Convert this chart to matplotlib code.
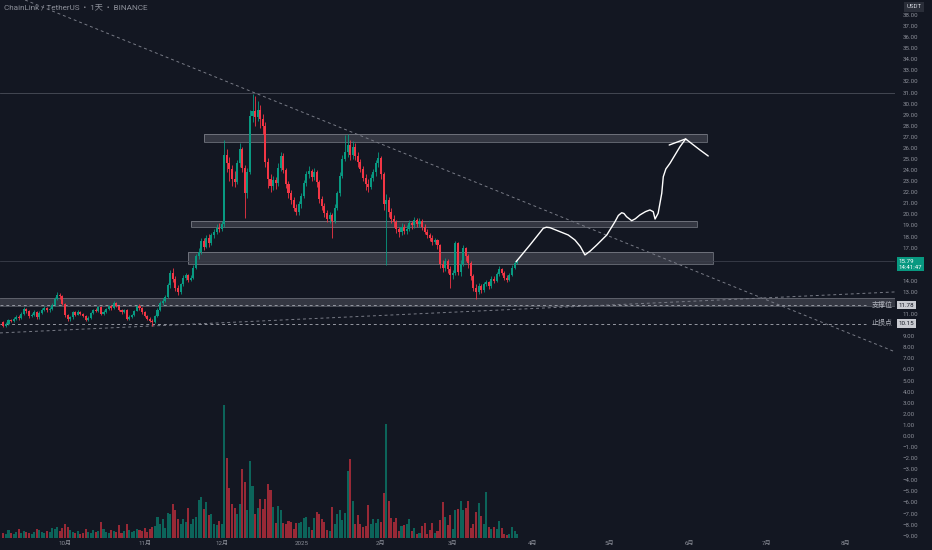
import numpy as np
import pandas as pd
import matplotlib
matplotlib.use("Agg")
import matplotlib.pyplot as plt
from matplotlib.patches import Rectangle
from matplotlib.ticker import FuncFormatter
from matplotlib.transforms import blended_transform_factory

BG = "#131722"
TXT = "#8c8f99"
UP, DOWN = "#089981", "#f23645"

# daily candles, ChainLink / TetherUS
origin = pd.Timestamp("2024-10-01")
dates = pd.date_range("2024-09-07", "2025-03-26", freq="D")
first_open = 10.25
close = [
    9.95, 10.15, 10.45, 10.40, 10.60, 10.75, 10.65, 11.05, 11.45, 11.30,
    10.80, 10.95, 11.20, 10.70, 11.10, 11.40, 11.55, 11.35, 11.45, 11.80,
    12.40, 12.75, 12.60, 11.90,
    10.90, 10.55, 10.70, 11.15, 10.95, 11.20, 11.00, 10.80, 10.50, 10.65,
    11.10, 11.40, 11.25, 11.60, 11.00, 11.20, 11.45, 11.70, 11.55, 12.00,
    11.75, 11.40, 11.20, 11.35, 10.60, 10.75, 10.95, 11.30, 11.70, 11.55,
    11.15, 10.85, 10.60, 10.40, 10.30, 10.80, 11.40, 12.00, 12.20, 12.55,
    13.60, 14.70, 14.20, 13.40, 12.95, 13.70, 14.30, 14.50, 14.10, 14.30,
    15.20, 16.20, 16.60, 17.60, 17.10, 17.90, 17.40, 18.10, 18.40, 18.80,
    18.70, 19.10, 25.40, 24.60, 24.10, 23.20, 22.90, 24.60, 25.90, 24.20,
    21.90, 23.80, 28.90, 29.30, 28.80, 29.40, 28.60, 28.00, 24.70, 23.20,
    22.60, 23.10, 22.80, 24.20, 25.30, 24.00, 22.70, 21.90, 21.30, 20.60,
    20.20, 20.90, 21.70, 22.80, 23.60, 23.90, 23.40, 23.80, 22.90, 21.40,
    20.80, 20.10, 19.60, 19.90, 19.40, 20.60, 21.90, 23.50, 25.00, 25.60,
    26.30, 25.40, 26.10, 25.30, 24.70, 24.10, 23.30, 22.70, 22.50, 23.30,
    23.80, 24.60, 25.10, 23.60, 20.90, 21.30, 20.20, 19.60, 19.30, 18.70,
    18.40, 18.90, 18.50, 18.70, 19.20, 19.00, 19.50, 19.10, 19.40, 18.90,
    18.40, 18.10, 17.90, 17.50, 17.70, 17.20, 15.50, 15.20, 15.80, 15.10, 14.50,
    14.70, 17.40, 14.80, 15.50, 17.00, 16.20, 15.60, 14.40, 13.40, 13.00,
    13.50, 13.20, 13.70, 13.90, 13.50, 14.20, 14.00, 14.60, 15.10, 14.70,
    14.30, 14.10, 14.50, 15.20, 15.60, 15.79,
]
high = [
    10.35, 10.25, 10.55, 10.60, 10.75, 10.90, 10.95, 11.20, 11.60, 11.55,
    11.35, 11.10, 11.35, 11.30, 11.25, 11.55, 11.75, 11.65, 11.60, 12.00,
    12.55, 12.95, 12.90, 12.70,
    12.00, 11.05, 10.85, 11.30, 11.25, 11.35, 11.30, 11.10, 10.90, 10.80,
    11.20, 11.50, 11.55, 11.75, 11.70, 11.35, 11.55, 11.85, 11.80, 12.15,
    12.10, 11.85, 11.50, 11.50, 11.45, 10.90, 11.05, 11.40, 11.85, 11.90,
    11.65, 11.25, 10.95, 10.75, 10.55, 10.95, 11.55, 12.15, 12.45, 12.75,
    13.80, 15.00, 15.20, 14.40, 13.60, 13.85, 14.50, 14.75, 14.65, 14.55,
    15.40, 16.45, 16.95, 17.85, 17.90, 18.10, 18.20, 18.35, 18.70, 19.10,
    19.20, 19.40, 26.70, 25.90, 25.20, 24.50, 23.90, 24.90, 26.40, 26.10,
    24.50, 24.20, 29.40, 30.90, 30.70, 30.20, 29.90, 29.10, 28.30, 25.10,
    23.60, 23.50, 23.40, 24.60, 25.60, 25.50, 24.20, 23.00, 22.20, 21.60,
    20.90, 21.20, 21.90, 23.10, 23.90, 24.40, 24.10, 24.20, 24.00, 23.10,
    21.70, 21.00, 20.40, 20.20, 20.10, 20.90, 22.10, 23.80, 25.40, 27.20,
    27.30, 26.70, 26.60, 26.40, 25.60, 25.00, 24.40, 23.60, 23.20, 23.60,
    24.10, 24.90, 25.60, 25.30, 23.80, 21.80, 21.60, 20.60, 19.90, 19.50,
    18.90, 19.20, 19.10, 19.00, 19.50, 19.40, 19.80, 19.70, 19.70, 19.60,
    19.10, 18.70, 18.30, 18.10, 17.90, 17.80, 17.30, 15.90, 16.10, 16.00, 15.30,
    15.00, 17.60, 17.50, 15.90, 17.20, 17.10, 16.40, 15.80, 14.60, 13.70,
    13.80, 13.70, 13.90, 14.10, 14.00, 14.40, 14.40, 14.80, 15.30, 15.20,
    14.90, 14.50, 14.70, 15.40, 15.80, 15.95,
]
low = [
    9.80, 9.85, 10.05, 10.25, 10.30, 10.50, 10.50, 10.60, 10.95, 11.10,
    10.65, 10.70, 10.85, 10.55, 10.60, 11.00, 11.30, 11.20, 11.20, 11.40,
    11.75, 12.30, 12.40, 11.80,
    10.70, 10.35, 10.40, 10.60, 10.85, 10.90, 10.90, 10.70, 10.35, 10.40,
    10.55, 11.00, 11.15, 11.20, 10.90, 10.90, 11.10, 11.35, 11.40, 11.50,
    11.60, 11.30, 11.05, 11.10, 10.45, 10.50, 10.65, 10.85, 11.25, 11.40,
    11.00, 10.70, 10.45, 10.25, 9.95, 10.20, 10.70, 11.30, 11.85, 12.05,
    12.45, 13.40, 13.90, 13.10, 12.70, 12.80, 13.55, 14.05, 13.90, 13.95,
    14.20, 15.05, 16.00, 16.40, 16.80, 16.95, 17.10, 17.20, 17.90, 18.20,
    18.40, 18.50, 18.90, 23.80, 23.00, 22.60, 22.50, 22.70, 24.30, 23.80,
    19.70, 21.50, 23.60, 28.30, 28.00, 28.40, 27.80, 27.30, 24.30, 22.40,
    22.00, 22.20, 22.30, 22.60, 23.90, 23.70, 22.40, 21.50, 20.90, 20.30,
    19.90, 19.95, 20.60, 21.50, 22.60, 23.30, 23.00, 23.10, 22.50, 21.00,
    20.40, 19.80, 19.30, 19.20, 17.90, 19.20, 20.40, 21.70, 23.30, 24.80,
    25.20, 24.90, 25.00, 24.90, 24.30, 23.80, 23.00, 22.20, 22.00, 22.30,
    23.00, 23.50, 24.30, 23.20, 20.40, 15.40, 19.80, 19.20, 18.90, 18.30,
    18.00, 18.10, 18.20, 18.20, 18.50, 18.70, 18.80, 18.90, 18.90, 18.60,
    18.20, 17.90, 17.60, 17.20, 17.30, 16.90, 15.20, 14.80, 14.90, 14.70, 13.40,
    14.20, 14.50, 14.50, 14.40, 15.30, 15.80, 15.20, 14.10, 13.10, 12.40,
    12.80, 12.90, 13.00, 13.50, 13.30, 13.40, 13.80, 13.90, 14.40, 14.50,
    14.10, 13.90, 14.00, 14.40, 15.10, 15.50,
]
volume = [
    5, 4, 8, 5, 4, 6, 9, 5, 7, 6,
    5, 4, 6, 9, 8, 6, 5, 7, 6, 10,
    9, 11, 7, 10,
    14, 11, 8, 6, 5, 7, 4, 5, 9, 6,
    5, 8, 6, 7, 16, 9, 6, 5, 8, 7,
    6, 13, 5, 7, 14, 8, 6, 7, 9, 8,
    7, 10, 6, 9, 11, 12, 21, 14, 19, 10,
    25, 24, 34, 28, 19, 14, 19, 16, 30, 14,
    19, 21, 38, 41, 29, 36, 23, 24, 14, 13,
    17, 14, 133, 80, 50, 34, 30, 24, 34, 69,
    56, 28, 77, 52, 24, 30, 39, 29, 39, 54,
    48, 31, 15, 32, 28, 15, 14, 17, 16, 9,
    15, 15, 16, 20, 21, 11, 8, 20, 26, 24,
    19, 16, 8, 7, 31, 14, 24, 28, 18, 25,
    67, 79, 37, 14, 23, 14, 11, 12, 33, 14,
    19, 15, 19, 16, 45, 114, 37, 20, 16, 20,
    7, 12, 13, 14, 19, 7, 10, 4, 5, 12,
    15, 4, 8, 15, 5, 7, 18, 36, 21, 13, 23,
    9, 28, 29, 37, 28, 30, 37, 10, 14, 26,
    35, 22, 14, 46, 11, 9, 11, 9, 17, 10,
    4, 3, 4, 11, 7, 4,
]

month_starts = ["2024-10-01", "2024-11-01", "2024-12-01", "2025-01-01", "2025-02-01",
                "2025-03-01", "2025-04-01", "2025-05-01", "2025-06-01", "2025-07-01",
                "2025-08-01"]
month_labels = ["10月", "11月", "12月", "2025", "2月", "3月", "4月", "5月", "6月", "7月", "8月"]

# price scale labels hidden behind the value boxes on the right
hidden_ticks = [10, 12, 15, 16]

# drawn zones: (start day, end day, low, high), days counted from 2024-10-01
zones = [(54.1, 249.9, 26.53, 27.26),
         (49.0, 246.0, 18.86, 19.40),
         (47.9, 252.2, 15.50, 16.60)]
support_zone = (11.73, 12.48)
ath_line = 30.98
levels = [11.78, 10.15]
level_names = ["支撑位", "止损点"]
trend_down = [(-8.6, 38.7), (322.3, 7.67)]
trend_up = [(-25.3, 9.30), (323.1, 13.0)]

# hand drawn projection path
path_day = [175.6, 181.0, 186.2, 187.4, 188.8, 191.5, 195.9, 198.5, 200.6, 202.4,
            204.5, 207.0, 210.9, 214.1, 215.4, 216.7, 217.6, 218.6, 220.6, 222.0,
            223.8, 226.0, 227.7, 229.0, 229.7, 230.9, 232.3, 232.9, 233.9, 235.5,
            239.4, 241.6, 247.2, 250.4]
path_price = [15.73, 17.24, 18.75, 18.84, 18.80, 18.55, 18.14, 17.69, 17.10, 16.34,
              16.70, 17.24, 18.14, 19.34, 19.90, 20.15, 20.08, 19.79, 19.43, 19.60,
              19.95, 20.25, 20.40, 20.24, 19.58, 20.10, 21.90, 23.40, 24.10, 24.61,
              26.11, 26.81, 25.81, 25.27]
arrow_wing = [(241.6, 26.81), (235.2, 26.26)]

plt.rcParams["font.family"] = ["Roboto", "Noto Sans CJK SC", "DejaVu Sans"]

days = np.array([(d - origin).days for d in dates], dtype=float)
close = np.array(close)
high = np.array(high)
low = np.array(low)
opens = np.r_[first_open, close[:-1]]
colors = np.where(close >= opens, UP, DOWN)

fig = plt.figure(figsize=(9.32, 5.5), dpi=100, facecolor=BG)
ax = fig.add_axes([0, 12 / 550, 895 / 932, 538 / 550])
axv = ax.twinx()
ax.set_zorder(2)
axv.set_zorder(1)
ax.patch.set_visible(False)

ax.set_xlim(-25.3, 323.1)
ax.set_ylim(-9.21, 39.35)

# volume
axv.bar(days, volume, width=0.8, color=colors, alpha=0.6, linewidth=0)
axv.set_ylim(0, max(volume) * 4.05)
axv.set_yticks([])

# zones and lines
for d0, d1, lo, hi in zones:
    ax.add_patch(Rectangle((d0, lo), d1 - d0, hi - lo, facecolor="#787b86", alpha=0.33,
                           edgecolor="none", zorder=1))
    ax.add_patch(Rectangle((d0, lo), d1 - d0, hi - lo, facecolor="none",
                           edgecolor="#9598a1", lw=0.7, alpha=0.6, zorder=1))
ax.axhspan(*support_zone, facecolor="#787b86", alpha=0.33, edgecolor="none", zorder=1)
ax.axhline(support_zone[0], color="#9598a1", lw=0.6, alpha=0.5, zorder=1)
ax.axhline(support_zone[1], color="#9598a1", lw=0.6, alpha=0.5, zorder=1)
ax.axhline(ath_line, color="#4a4e5a", lw=0.6, zorder=1)
ax.axhline(close[-1], color="#3b3f4b", lw=0.6, zorder=1)
for lvl in levels:
    ax.axhline(lvl, xmax=0.968, color="#9598a1", lw=0.7, ls=(0, (3, 3)), zorder=2)
for pts in (trend_down, trend_up):
    ax.axline(pts[0], pts[1], color="#787b86", lw=0.7, ls=(0, (3, 3)), zorder=2)

# candles
ax.vlines(days, low, high, colors=colors, lw=0.6, zorder=3)
ax.bar(days, np.maximum(np.abs(close - opens), 0.05), bottom=np.minimum(opens, close),
       width=0.8, color=colors, linewidth=0, zorder=4)

# projection drawing
ax.plot(path_day, path_price, color="white", lw=1.0, solid_joinstyle="round",
        solid_capstyle="round", zorder=5)
ax.plot(*zip(*arrow_wing), color="white", lw=1.0, solid_capstyle="round", zorder=5)

# axes styling
for sp in ax.spines.values():
    sp.set_visible(False)
for sp in axv.spines.values():
    sp.set_visible(False)
ax.yaxis.tick_right()
ax.set_yticks([v for v in range(-9, 39) if v not in hidden_ticks])
ax.yaxis.set_major_formatter(FuncFormatter(lambda v, p: f"{v:.2f}".replace("-", "\u2212")))
ax.tick_params(axis="y", length=0, pad=5.5, labelsize=4.4, labelcolor=TXT)
ax.set_xticks([(pd.Timestamp(m) - origin).days for m in month_starts])
ax.set_xticklabels(month_labels)
ax.tick_params(axis="x", length=0, pad=2.2, labelsize=4.4, labelcolor=TXT)

# right side labels
trans = blended_transform_factory(ax.transAxes, ax.transData)
ax.text(1.004, close[-1] - 0.3, f"{close[-1]:.2f}\n14:41:47", transform=trans,
        ha="left", va="center", fontsize=4.4, color="white", linespacing=1.15,
        clip_on=False, bbox=dict(boxstyle="square,pad=0.3", fc=UP, ec="none"))
for lvl, name in zip(levels, level_names):
    ax.text(1.004, lvl, f"{lvl:.2f}", transform=trans, ha="left", va="center",
            fontsize=4.4, color="#131722", clip_on=False,
            bbox=dict(boxstyle="square,pad=0.25", fc="#c9cbd1", ec="none"))
    ax.text(0.997, lvl, name, transform=trans, ha="right", va="center",
            fontsize=5, color="#b2b5be", clip_on=False)

fig.text(914 / 932, 1 - 7 / 550, "USDT", ha="center", va="center", fontsize=4.4,
         color="#d1d4dc", bbox=dict(boxstyle="square,pad=0.45", fc="#2a2e39", ec="none"))
fig.text(4 / 932, 1 - 7 / 550, "ChainLink / TetherUS  •  1天  •  BINANCE", ha="left",
         va="center", fontsize=5.9, color="#8c8f99")

fig.savefig("out.png", dpi=100, facecolor=BG)
